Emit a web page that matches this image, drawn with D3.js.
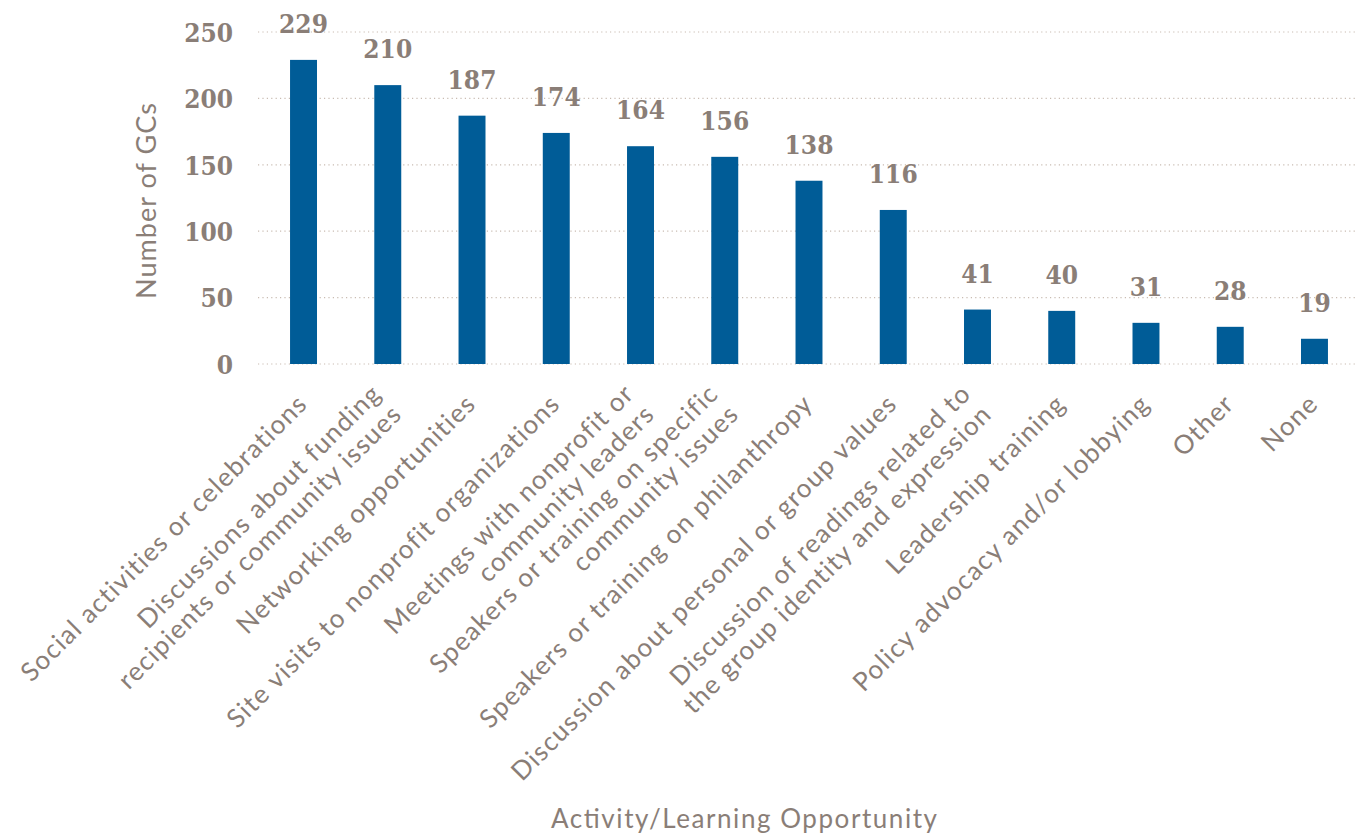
<!DOCTYPE html>
<html>
<head>
<meta charset="utf-8">
<script src="https://cdn.jsdelivr.net/npm/d3@7"></script>
<style>
  html, body { margin: 0; padding: 0; background: #fff; }
  svg { display: block; }
</style>
</head>
<body>
<svg id="chart" width="1357" height="834"></svg>
<script>
const categories = [
  ["Social activities or celebrations"],
  ["Discussions about funding", "recipients or community issues"],
  ["Networking opportunities"],
  ["Site visits to nonprofit organizations"],
  ["Meetings with nonprofit or", "community leaders"],
  ["Speakers or training on specific", "community issues"],
  ["Speakers or training on philanthropy"],
  ["Discussion about personal or group values"],
  ["Discussion of readings related to", "the group identity and expression"],
  ["Leadership training"],
  ["Policy advocacy and/or lobbying"],
  ["Other"],
  ["None"]
];
const values = [229, 210, 187, 174, 164, 156, 138, 116, 41, 40, 31, 28, 19];
const yTicks = [0, 50, 100, 150, 200, 250];
const yTitle = "Number of GCs";
const xTitle = "Activity/Learning Opportunity";

const textColor = "#8a7e77";
const barColor = "#005c97";
const gridColor = "#c9bcb2";
const numFont = "'DejaVu Serif Condensed', 'DejaVu Serif', serif";
const sansFont = "Lato, 'Open Sans', sans-serif";

const svg = d3.select("#chart");
const keys = categories.map((c, i) => String(i));

const x = d3.scaleBand().domain(keys).range([261.4, 1356.6]).paddingInner(0).paddingOuter(0);
const y = d3.scaleLinear().domain([0, 250]).range([364, 32]);
const barW = x.bandwidth() * 0.32;

// gridlines
svg.append("g").selectAll("line").data(yTicks).join("line")
  .attr("x1", 258).attr("x2", 1357)
  .attr("y1", d => y(d)).attr("y2", d => y(d))
  .attr("stroke", gridColor).attr("stroke-width", 1.2)
  .attr("stroke-dasharray", "1.2,3.2");

// y axis ticks
const yAxis = d3.axisLeft(y).tickValues(yTicks).tickSize(0).tickPadding(0);
const gy = svg.append("g").attr("transform", "translate(233,0)").call(yAxis);
gy.select(".domain").remove();
gy.selectAll("text")
  .attr("fill", textColor)
  .style("font-family", numFont)
  .style("font-weight", "bold")
  .style("font-size", "26px")
  .attr("dy", "0.36em");

// bars
svg.append("g").selectAll("rect").data(values).join("rect")
  .attr("x", (d, i) => x(keys[i]) + x.bandwidth() / 2 - barW / 2)
  .attr("y", d => y(d))
  .attr("width", barW)
  .attr("height", d => y(0) - y(d))
  .attr("fill", barColor);

// value labels
svg.append("g").selectAll("text").data(values).join("text")
  .attr("x", (d, i) => x(keys[i]) + x.bandwidth() / 2)
  .attr("y", d => y(d) - 27)
  .attr("text-anchor", "middle")
  .attr("fill", textColor)
  .style("font-family", numFont)
  .style("font-weight", "bold")
  .style("font-size", "26px")
  .text(d => d);

// x labels
const lh = 29;
const xl = svg.append("g").selectAll("text").data(categories).join("text")
  .attr("transform", (d, i) => `translate(${x(keys[i]) + x.bandwidth() / 2 - 1},${399}) rotate(-45)`)
  .attr("text-anchor", "end")
  .attr("fill", textColor)
  .style("font-family", sansFont)
  .style("font-size", "26px")
  .style("letter-spacing", "1.3px");
xl.each(function(lines) {
  const t = d3.select(this);
  lines.forEach((ln, j) => {
    t.append("tspan")
      .attr("x", 0)
      .attr("y", (j - (lines.length - 1) / 2) * lh)
      .attr("dy", "0.35em")
      .text(ln);
  });
});

// axis titles
svg.append("text")
  .attr("transform", "translate(156,201) rotate(-90)")
  .attr("text-anchor", "middle")
  .attr("fill", textColor)
  .style("font-family", sansFont)
  .style("font-size", "27px")
  .attr("textLength", 196)
  .attr("lengthAdjust", "spacing")
  .text(yTitle);

svg.append("text")
  .attr("x", 744).attr("y", 828)
  .attr("text-anchor", "middle")
  .attr("fill", textColor)
  .style("font-family", sansFont)
  .style("font-size", "26px")
  .attr("textLength", 386)
  .attr("lengthAdjust", "spacing")
  .text(xTitle);
</script>
</body>
</html>
